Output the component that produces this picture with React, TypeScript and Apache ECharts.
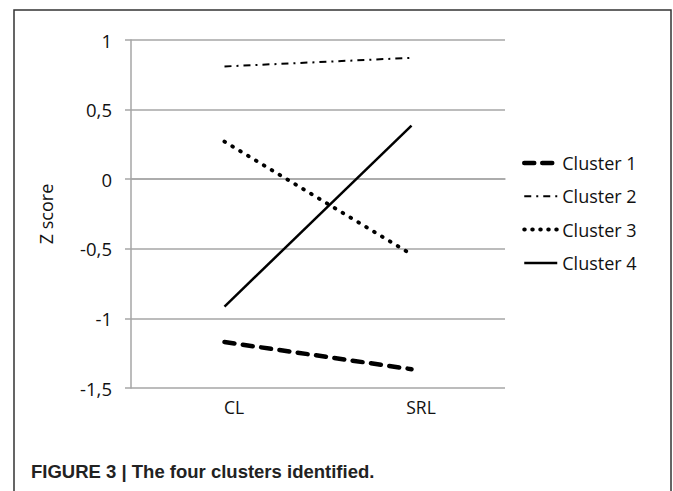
import React, { useEffect, useRef } from "react";
import * as echarts from "echarts";

const categories = ["CL", "SRL"];
const yTicks = { min: -1.5, max: 1, interval: 0.5 };
const clusterNames = ["Cluster 1", "Cluster 2", "Cluster 3", "Cluster 4"];
const cluster1 = [-1.17, -1.365];
const cluster2 = [0.81, 0.872];
const cluster3 = [0.27, -0.54];
const cluster4 = [-0.915, 0.385];
const caption = "FIGURE 3 | The four clusters identified.";

export default function App() {
  const ref = useRef<HTMLDivElement>(null);
  useEffect(() => {
    if (!ref.current) return;
    const chart = echarts.init(ref.current, null, { renderer: "svg" });
    const font = "'Open Sans', 'Noto Sans', sans-serif";
    const lineStyles: any[] = [
      { color: "#000", width: 4.5, type: [10, 8.5], cap: "round" },
      { color: "#000", width: 2, type: [7, 5, 2, 5], cap: "butt" },
      { color: "#000", width: 4, type: [0.5, 8.7], cap: "round" },
      { color: "#000", width: 2.5, type: "solid", cap: "butt" },
    ];
    const legendLineStyles: any[] = [
      { color: "#000", width: 4.5, type: [10, 8], cap: "round" },
      { color: "#000", width: 2, type: [7, 5, 2, 5], cap: "butt" },
      { color: "#000", width: 4, type: [0.5, 7.5], cap: "round" },
      { color: "#000", width: 2.5, type: "solid", cap: "butt" },
    ];
    const data = [cluster1, cluster2, cluster3, cluster4];
    chart.setOption({
      animation: false,
      backgroundColor: "#fff",
      grid: { left: 131, right: 168, top: 40, bottom: 103, containLabel: false },
      legend: {
        orient: "vertical",
        left: 522,
        top: 153,
        padding: 0,
        itemWidth: 33,
        itemHeight: 14,
        itemGap: 13.3,
        itemStyle: { opacity: 0, color: "rgba(0,0,0,0)", borderWidth: 0 },
        data: clusterNames.map((name, i) => ({
          name,
          lineStyle: legendLineStyles[i],
          itemStyle: { opacity: 0, color: "rgba(0,0,0,0)", borderWidth: 0 },
        })),
        textStyle: { fontFamily: font, fontSize: 18, color: "#111", lineHeight: 20 },
      },
      xAxis: {
        type: "category",
        data: categories,
        boundaryGap: true,
        axisLine: { lineStyle: { color: "#a6a6a6", width: 1.5 } },
        axisTick: { show: false },
        axisLabel: {
          fontFamily: font,
          fontSize: 17.5,
          color: "#111",
          margin: 10,
          padding: [0, 0, 0, 19],
        },
      },
      yAxis: {
        type: "value",
        min: yTicks.min,
        max: yTicks.max,
        interval: yTicks.interval,
        name: "Z score",
        nameLocation: "middle",
        nameRotate: 90,
        nameGap: 76,
        nameTextStyle: { fontFamily: font, fontSize: 18, color: "#111" },
        axisLine: { show: true, lineStyle: { color: "#a6a6a6", width: 1.5 } },
        axisTick: { show: true, length: 6, lineStyle: { color: "#a6a6a6", width: 1.5 } },
        splitLine: { show: true, lineStyle: { color: "#a6a6a6", width: 1.5 } },
        axisLabel: {
          fontFamily: font,
          fontSize: 18.5,
          color: "#111",
          margin: 19,
          formatter: (v: number) => String(v).replace(".", ","),
        },
      },
      series: clusterNames.map((name, i) => ({
        name,
        type: "line",
        data: data[i],
        symbol: "none",
        lineStyle: lineStyles[i],
        itemStyle: { color: "#000" },
      })),
      graphic: [
        {
          type: "rect",
          shape: { x: 14, y: 10, width: 657, height: 520 },
          style: { fill: "none", stroke: "#333", lineWidth: 1.5 },
          silent: true,
        },
        {
          type: "text",
          x: 31,
          y: 471,
          style: {
            text: caption,
            fill: "#222",
            font: "bold 18.5px 'Liberation Sans', Arial, sans-serif",
            verticalAlign: "middle",
            align: "left",
          },
        },
      ],
    });
    return () => chart.dispose();
  }, []);
  return (
    <div
      ref={ref}
      style={{ position: "fixed", left: 0, top: 0, width: 673, height: 491, background: "#fff" }}
    />
  );
}
